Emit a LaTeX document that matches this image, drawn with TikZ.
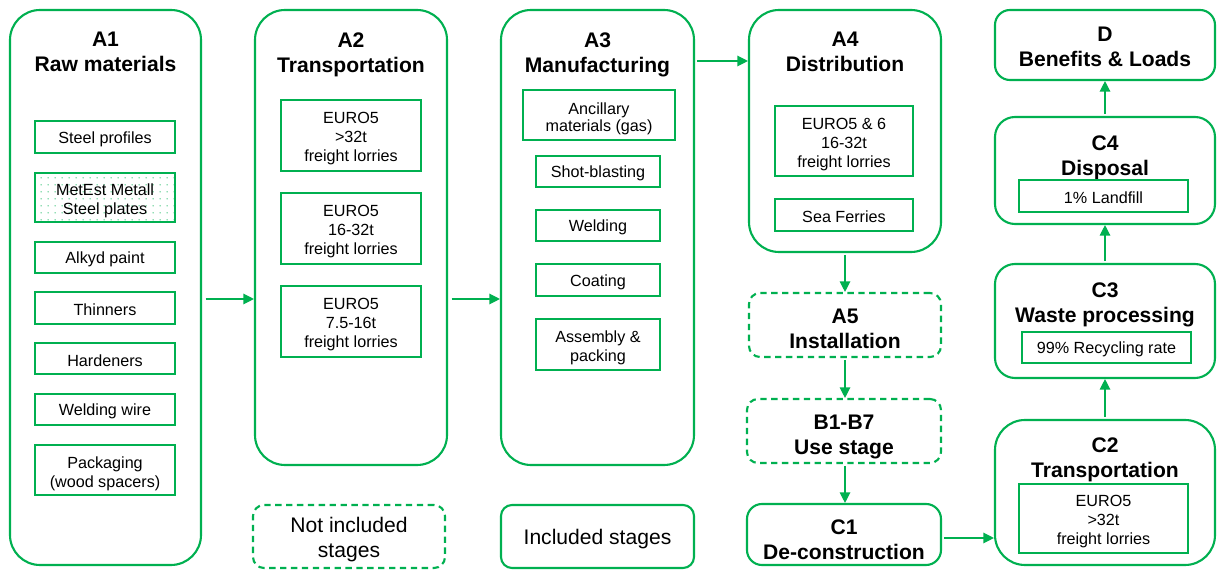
\documentclass[tikz,border=0pt]{standalone}
\usepackage{fontspec}
\setmainfont{Liberation Sans}
\usetikzlibrary{fit,arrows.meta,patterns.meta}
\definecolor{lcagreen}{RGB}{0,176,80}
\tikzset{
  bigbox/.style={draw=lcagreen, line width=1.2pt, rounded corners=0.6cm, inner sep=0pt},
  midbox/.style={draw=lcagreen, line width=1.2pt, rounded corners=0.4cm, inner sep=0pt},
  smallbox/.style={draw=lcagreen, line width=1.2pt, rounded corners=0.3cm, inner sep=0pt},
  dashbox/.style={draw=lcagreen, line width=1.2pt, rounded corners=0.22cm, inner sep=0pt, dash pattern=on 3.6pt off 2.6pt},
  ttl/.style={anchor=north, inner sep=0pt, align=center, font=\fontsize{12}{14.2}\selectfont\bfseries},
  ibox/.style={draw=lcagreen, line width=1.1pt, inner sep=0pt},
  itxt/.style={inner sep=0pt, align=center, yshift=-0.04cm, font=\fontsize{9.2}{10.8}\selectfont},
  mtxt/.style={itxt, yshift=-0.03cm},
  legend/.style={inner sep=0pt, align=center, yshift=-0.06cm, font=\fontsize{12}{14.2}\selectfont},
  dotfill/.style={pattern={Dots[distance=4pt, radius=0.4pt]}, pattern color=lcagreen},
  arr/.style={draw=lcagreen, line width=0.7pt, -{Triangle[length=6pt,width=6pt]}}
}
\begin{document}
\begin{tikzpicture}[x=0.02cm,y=-0.02cm]
\useasboundingbox (0,0) rectangle (1218,570);
% big stage boxes
\node[bigbox, fit={(10,10)(201,565)}] (A1) {};
\node[bigbox, fit={(255,10)(447,465)}] (A2) {};
\node[bigbox, fit={(501,10)(694,465)}] (A3) {};
\node[bigbox, fit={(749,10)(941,252)}] (A4) {};
\node[dashbox, fit={(749,293)(941,357)}] (A5) {};
\node[dashbox, fit={(747,399)(941,463)}] (B) {};
\node[smallbox, fit={(747,504)(941,565)}] (C1) {};
\node[smallbox, fit={(995,10)(1215,80)}] (D) {};
\node[midbox, fit={(995,117)(1215,224)}] (C4) {};
\node[midbox, fit={(995,264)(1215,378)}] (C3) {};
\node[bigbox, fit={(995,420)(1215,565)}] (C2) {};
% titles
\node[ttl] (A1t) at (105.5,32) {A1\\Raw materials};
\node[ttl] (A2t) at (351,32) {A2\\Transportation};
\node[ttl] (A3t) at (597.5,32) {A3\\Manufacturing};
\node[ttl] (A4t) at (845,32) {A4\\Distribution};
\node[ttl] (A5t) at (845,309) {A5\\Installation};
\node[ttl] (Bt) at (844,415) {B1-B7\\Use stage};
\node[ttl] (C1t) at (844,519) {C1\\De-construction};
\node[ttl] (Dt) at (1105,27) {D\\Benefits \& Loads};
\node[ttl] (C4t) at (1105,135) {C4\\Disposal};
\node[ttl] (C3t) at (1105,282) {C3\\Waste processing};
\node[ttl] (C2t) at (1105,437) {C2\\Transportation};
% A1 items
\node[ibox, fit={(35,121)(175,153)}] (sp) {};
\node[itxt] (spt) at (sp) {Steel profiles};
\node[ibox, dotfill, fit={(35,173)(175,222)}] (mm) {};
\node[mtxt] (mmt) at (mm) {MetEst Metall\\Steel plates};
\node[ibox, fit={(35,242)(175,273)}] (ap) {};
\node[itxt] (apt) at (ap) {Alkyd paint};
\node[ibox, fit={(35,292)(175,324)}] (th) {};
\node[itxt] (tht) at (th) {Thinners};
\node[ibox, fit={(35,343)(175,374)}] (hd) {};
\node[itxt] (hdt) at (hd) {Hardeners};
\node[ibox, fit={(35,394)(175,425)}] (ww) {};
\node[itxt] (wwt) at (ww) {Welding wire};
\node[ibox, fit={(35,445)(175,495)}] (pk) {};
\node[mtxt] (pkt) at (pk) {Packaging\\(wood spacers)};
% A2 items
\node[ibox, fit={(281,100)(421,171)}] (t1) {};
\node[mtxt] (t1t) at (t1) {EURO5\\>32t\\freight lorries};
\node[ibox, fit={(281,193)(421,264)}] (t2) {};
\node[mtxt] (t2t) at (t2) {EURO5\\16-32t\\freight lorries};
\node[ibox, fit={(281,286)(421,357)}] (t3) {};
\node[mtxt] (t3t) at (t3) {EURO5\\7.5-16t\\freight lorries};
% A3 items
\node[ibox, fit={(523,90)(675,140)}] (m1) {};
\node[mtxt] (m1t) at (m1) {Ancillary\\[-1pt]materials (gas)};
\node[ibox, fit={(536,156)(660,187)}] (m2) {};
\node[itxt] (m2t) at (m2) {Shot-blasting};
\node[ibox, fit={(536,210)(660,241)}] (m3) {};
\node[itxt] (m3t) at (m3) {Welding};
\node[ibox, fit={(536,264)(660,296)}] (m4) {};
\node[itxt] (m4t) at (m4) {Coating};
\node[ibox, fit={(536,319)(660,370)}] (m5) {};
\node[mtxt] (m5t) at (m5) {Assembly \&\\packing};
% A4 items
\node[ibox, fit={(775,106)(913,176)}] (d1) {};
\node[mtxt] (d1t) at (d1) {EURO5 \& 6\\16-32t\\freight lorries};
\node[ibox, fit={(775,199)(913,231)}] (d2) {};
\node[itxt] (d2t) at (d2) {Sea Ferries};
% C items
\node[ibox, fit={(1019,180)(1188,212)}] (c4i) {};
\node[itxt] (c4it) at (c4i) {1\% Landfill};
\node[ibox, fit={(1022,332)(1191,363)}] (c3i) {};
\node[itxt] (c3it) at (c3i) {99\% Recycling rate};
\node[ibox, fit={(1019,484)(1188,553)}] (c2i) {};
\node[mtxt] (c2it) at (c2i) {EURO5\\>32t\\freight lorries};
% legend
\node[dashbox, fit={(253,505)(445,568)}] (Lnot) {};
\node[legend] (Lnott) at (Lnot) {Not included\\stages};
\node[smallbox, rounded corners=0.22cm, fit={(501,505)(694,568)}] (Linc) {};
\node[legend] (Linct) at (Linc) {Included stages};
% connectors
\draw[arr, shorten <=2pt] (A1.east |- 0,299) -- (A2.west |- 0,299);
\draw[arr, shorten <=2pt] (A2.east |- 0,299) -- (A3.west |- 0,299);
\draw[arr, shorten <=1pt] (A3.east |- 0,61) -- (A4.west |- 0,61);
\draw[arr, shorten <=1pt] (A4.south) -- (A5.north);
\draw[arr, shorten <=1pt] (A5.south) -- (A5.south |- B.north);
\draw[arr, shorten <=1pt] (B.south -| A5.south) -- (A5.south |- C1.north);
\draw[arr, shorten <=1pt] (C1.east |- 0,538) -- (C2.west |- 0,538);
\draw[arr, shorten <=1pt] (C2.north) -- (C3.south);
\draw[arr, shorten <=1pt] (C3.north) -- (C4.south);
\draw[arr, shorten <=1pt] (C4.north) -- (D.south);
\end{tikzpicture}
\end{document}
